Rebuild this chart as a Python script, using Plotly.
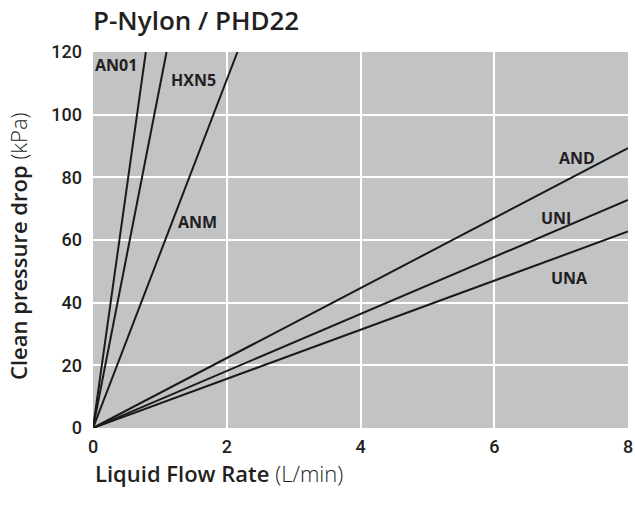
import plotly.graph_objects as go

# Series: each line runs from the origin to its end point
series_names = ["AN01", "HXN5", "ANM", "AND", "UNI", "UNA"]
end_flow = [0.79, 1.10, 2.16, 8.0, 8.0, 8.0]            # L/min
end_pressure = [120.0, 120.0, 120.0, 89.3, 72.8, 62.7]  # kPa

# Label positions (data coordinates)
label_x = [0.35, 1.5, 1.57, 7.24, 6.92, 7.13]
label_y = [116.0, 111.0, 65.7, 86.2, 67.0, 47.9]

x_ticks = [0, 2, 4, 6, 8]
y_ticks = [0, 20, 40, 60, 80, 100, 120]

W, H = 635, 506
L, R, T, B = 93, 7, 52, 78

ink = "#231f20"
tick_font = dict(family="Roboto, Liberation Sans, Arial", size=18, color=ink, weight=500)
label_font = dict(family="Open Sans, Liberation Sans, Arial", size=16, color=ink, weight=700)
title_font = dict(family="Open Sans, Liberation Sans, Arial", size=22, color=ink)

fig = go.Figure()
for name, xe, ye in zip(series_names, end_flow, end_pressure):
    fig.add_trace(go.Scatter(x=[0, xe], y=[0, ye], mode="lines", name=name,
                             line=dict(color="#1a1a1a", width=2), showlegend=False))

for name, lx, ly in zip(series_names, label_x, label_y):
    fig.add_annotation(x=lx, y=ly, text=name, showarrow=False,
                       font=label_font, xanchor="center", yanchor="middle")

plot_h = H - T - B
plot_w = W - L - R
# Axis titles
fig.add_annotation(xref="paper", yref="paper", x=0, y=-(473 - (H - B)) / plot_h,
                   xanchor="left", yanchor="middle", showarrow=False,
                   text="<span style='font-weight:600'>Liquid Flow Rate</span> <span style='font-weight:300'>(L/min)</span>",
                   font=title_font)
fig.add_annotation(xref="paper", yref="paper", x=-(L - 18) / plot_w, y=(H - B - 246) / plot_h,
                   xanchor="center", yanchor="middle", showarrow=False, textangle=-90,
                   text="<span style='font-weight:600'>Clean pressure drop</span> <span style='font-weight:300'>(kPa)</span>",
                   font=title_font)

fig.update_layout(
    width=W, height=H,
    margin=dict(l=L, r=R, t=T, b=B, autoexpand=False),
    paper_bgcolor="white",
    plot_bgcolor="#c2c3c5",
    title=dict(text="P-Nylon / PHD22", xref="container", yref="container",
               x=L / W, xanchor="left", y=1 - 21 / H, yanchor="middle",
               font=dict(family="Open Sans, Lato, Arial", size=26, color=ink, weight=600)),
)
fig.update_xaxes(range=[0, 8], tickvals=x_ticks, ticktext=[str(v) for v in x_ticks],
                 showgrid=True, gridcolor="white", gridwidth=1.5, zeroline=False,
                 showline=False, ticks="", tickfont=tick_font, ticklabelstandoff=6,
                 automargin=False, ticklabeloverflow="allow")
fig.update_yaxes(range=[0, 120], tickvals=y_ticks, ticktext=[str(v) for v in y_ticks],
                 showgrid=True, gridcolor="white", gridwidth=1.5, zeroline=False,
                 showline=False, ticks="", tickfont=tick_font, ticklabelstandoff=10,
                 automargin=False, ticklabeloverflow="allow")

fig.write_html("out.html", config={"displayModeBar": False},
               post_script="document.body.style.margin='0';")
